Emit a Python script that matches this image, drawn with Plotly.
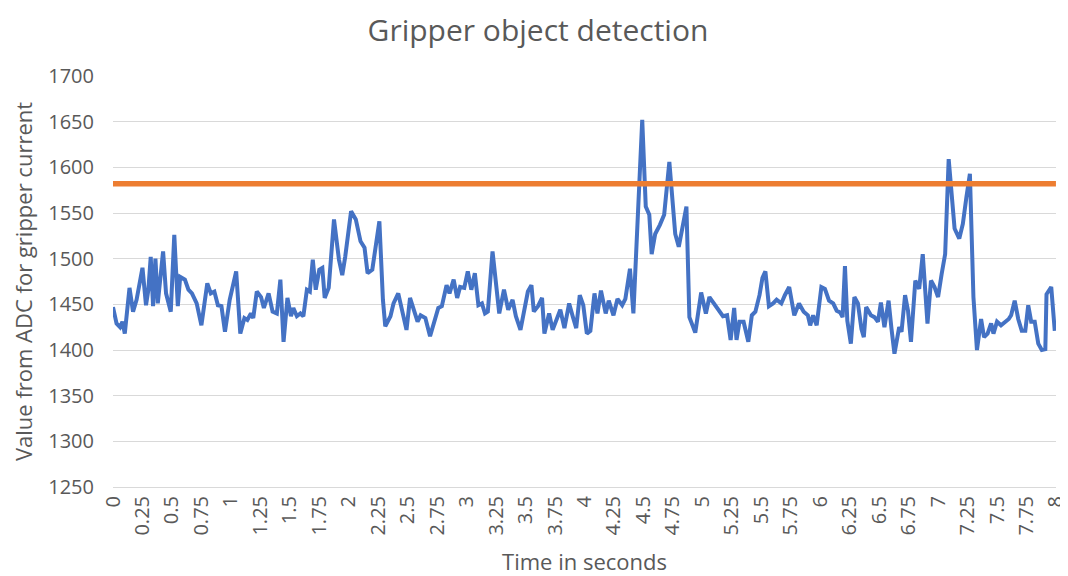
import plotly.graph_objects as go

time_s = [0.00, 0.03, 0.06, 0.08, 0.10, 0.14, 0.17, 0.20, 0.25, 0.28, 0.30, 0.32, 0.34, 0.36, 0.38, 0.40,
          0.425, 0.45, 0.47, 0.49, 0.52, 0.55, 0.57, 0.61, 0.64, 0.67, 0.71, 0.75, 0.80, 0.83, 0.86, 0.89,
          0.92, 0.95, 0.99, 1.045, 1.08, 1.115, 1.14, 1.17, 1.19, 1.22, 1.256, 1.28, 1.32, 1.354, 1.39,
          1.42, 1.447, 1.48, 1.51, 1.53, 1.56, 1.59, 1.615, 1.645, 1.67, 1.695, 1.72, 1.75, 1.776, 1.796,
          1.83, 1.875, 1.917, 1.945, 1.97, 2.02, 2.06, 2.10, 2.134, 2.16, 2.20, 2.227, 2.26, 2.29, 2.31,
          2.354, 2.38, 2.42, 2.45, 2.49, 2.52, 2.55, 2.584, 2.61, 2.65, 2.69, 2.725, 2.76, 2.79, 2.83,
          2.855, 2.89, 2.92, 2.945, 2.98, 3.01, 3.04, 3.07, 3.10, 3.13, 3.156, 3.18, 3.22, 3.25, 3.277,
          3.317, 3.353, 3.39, 3.418, 3.457, 3.494, 3.52, 3.55, 3.57, 3.606, 3.64, 3.66, 3.70, 3.73, 3.77,
          3.795, 3.83, 3.87, 3.90, 3.93, 3.96, 3.99, 4.02, 4.05, 4.085, 4.11, 4.14, 4.18, 4.206, 4.246,
          4.28, 4.32, 4.347, 4.386, 4.415, 4.45, 4.49, 4.52, 4.55, 4.57, 4.60, 4.64, 4.676, 4.72, 4.747,
          4.77, 4.80, 4.83, 4.865, 4.89, 4.94, 4.99, 5.03, 5.06, 5.097, 5.14, 5.175, 5.21, 5.24, 5.27,
          5.29, 5.315, 5.35, 5.39, 5.42, 5.45, 5.485, 5.51, 5.535, 5.565, 5.60, 5.63, 5.67, 5.70, 5.737,
          5.78, 5.82, 5.86, 5.895, 5.915, 5.94, 5.97, 6.01, 6.04, 6.075, 6.11, 6.14, 6.17, 6.19, 6.21,
          6.23, 6.26, 6.29, 6.32, 6.35, 6.37, 6.39, 6.43, 6.46, 6.49, 6.515, 6.545, 6.58, 6.605, 6.63,
          6.67, 6.69, 6.72, 6.745, 6.77, 6.807, 6.84, 6.87, 6.91, 6.94, 6.97, 7.00, 7.03, 7.06, 7.09,
          7.12, 7.14, 7.18, 7.21, 7.24, 7.27, 7.30, 7.33, 7.365, 7.39, 7.42, 7.45, 7.47, 7.50, 7.534,
          7.57, 7.60, 7.62, 7.65, 7.68, 7.71, 7.74, 7.765, 7.79, 7.82, 7.85, 7.88, 7.91, 7.92, 7.96, 7.99]

adc_value = [1447, 1429, 1425, 1431, 1418, 1468, 1442, 1455, 1490, 1449, 1466, 1502, 1448, 1500, 1451, 1473,
             1508, 1462, 1451, 1442, 1526, 1448, 1480, 1477, 1466, 1462, 1451, 1427, 1473, 1462, 1464, 1449,
             1448, 1420, 1455, 1486, 1418, 1435, 1433, 1440, 1435, 1464, 1458, 1446, 1462, 1442, 1440,
             1477, 1409, 1457, 1437, 1446, 1437, 1440, 1437, 1466, 1464, 1499, 1466, 1488, 1490, 1457,
             1468, 1543, 1499, 1482, 1502, 1552, 1543, 1519, 1512, 1484, 1488, 1510, 1541, 1455, 1426,
             1437, 1451, 1462, 1446, 1422, 1457, 1446, 1431, 1438, 1435, 1415, 1431, 1446, 1448, 1471,
             1462, 1477, 1457, 1469, 1468, 1486, 1466, 1484, 1449, 1451, 1440, 1442, 1508, 1469, 1440,
             1466, 1444, 1455, 1437, 1422, 1449, 1464, 1471, 1442, 1448, 1457, 1418, 1440, 1422, 1435,
             1444, 1424, 1451, 1437, 1424, 1460, 1449, 1418, 1421, 1462, 1440, 1465, 1440, 1454, 1438,
             1456, 1449, 1456, 1489, 1440, 1546, 1652, 1557, 1548, 1505, 1527, 1537, 1548, 1606, 1564,
             1527, 1513, 1535, 1557, 1436, 1419, 1463, 1440, 1458, 1451, 1442, 1437, 1438, 1411, 1446,
             1411, 1431, 1431, 1409, 1438, 1442, 1460, 1479, 1486, 1448, 1451, 1455, 1451, 1460, 1469,
             1438, 1451, 1442, 1438, 1427, 1438, 1427, 1469, 1467, 1454, 1451, 1443, 1441, 1436, 1492,
             1432, 1407, 1458, 1451, 1423, 1414, 1447, 1438, 1436, 1431, 1452, 1425, 1454, 1423, 1396,
             1425, 1420, 1460, 1443, 1409, 1476, 1467, 1505, 1429, 1476, 1469, 1458, 1483, 1505, 1609,
             1565, 1533, 1522, 1538, 1567, 1593, 1458, 1400, 1434, 1414, 1418, 1429, 1418, 1431, 1427,
             1431, 1434, 1438, 1454, 1434, 1421, 1421, 1449, 1431, 1431, 1407, 1400, 1401, 1461, 1469, 1421]

threshold_time = [0, 8]
threshold_value = [1582, 1582]

x_ticks = [i * 0.25 for i in range(33)]
x_tick_labels = ["0", "0.25", "0.5", "0.75", "1", "1.25", "1.5", "1.75", "2", "2.25", "2.5", "2.75",
                 "3", "3.25", "3.5", "3.75", "4", "4.25", "4.5", "4.75", "5", "5.25", "5.5", "5.75",
                 "6", "6.25", "6.5", "6.75", "7", "7.25", "7.5", "7.75", "8"]
y_ticks = [1250, 1300, 1350, 1400, 1450, 1500, 1550, 1600, 1650, 1700]

font_family = "Open Sans, Lato, sans-serif"
grey = "#595959"

fig = go.Figure()
fig.add_trace(go.Scatter(x=time_s, y=adc_value, mode="lines",
                         line=dict(color="#4472C4", width=4), showlegend=False))
fig.add_trace(go.Scatter(x=threshold_time, y=threshold_value, mode="lines",
                         line=dict(color="#ED7D31", width=5.5), showlegend=False))

# the page body has an 8px margin, so the figure is sized to fill the rest of the window
fig.update_layout(
    width=1060, height=568,
    margin=dict(l=105, r=12, t=68, b=89),
    paper_bgcolor="white", plot_bgcolor="white",
    font=dict(family=font_family, color=grey),
    title=dict(text="Gripper object detection", x=0.5, xanchor="center", y=0.961, yanchor="middle",
               font=dict(size=30, color=grey, family=font_family)),
    xaxis=dict(range=[0, 8.0005], tickmode="array", tickvals=x_ticks, ticktext=x_tick_labels,
               tickangle=-90, tickfont=dict(size=20, color=grey), showgrid=False, zeroline=False,
               showline=True, linecolor="#D9D9D9", linewidth=1, ticks="", automargin=False,
               ticklabeloverflow="allow",
               title=dict(text="Time in seconds", font=dict(size=22, color=grey), standoff=23)),
    yaxis=dict(range=[1250, 1700], tickmode="array", tickvals=y_ticks,
               tickfont=dict(size=20, color=grey), showgrid=True, gridcolor="#D9D9D9", gridwidth=1,
               zeroline=False, showline=False, ticks="", ticklabelstandoff=18, automargin=False,
               title=dict(text="Value from ADC for gripper current", font=dict(size=22, color=grey),
                          standoff=13)),
)

fig.write_html("out.html")
